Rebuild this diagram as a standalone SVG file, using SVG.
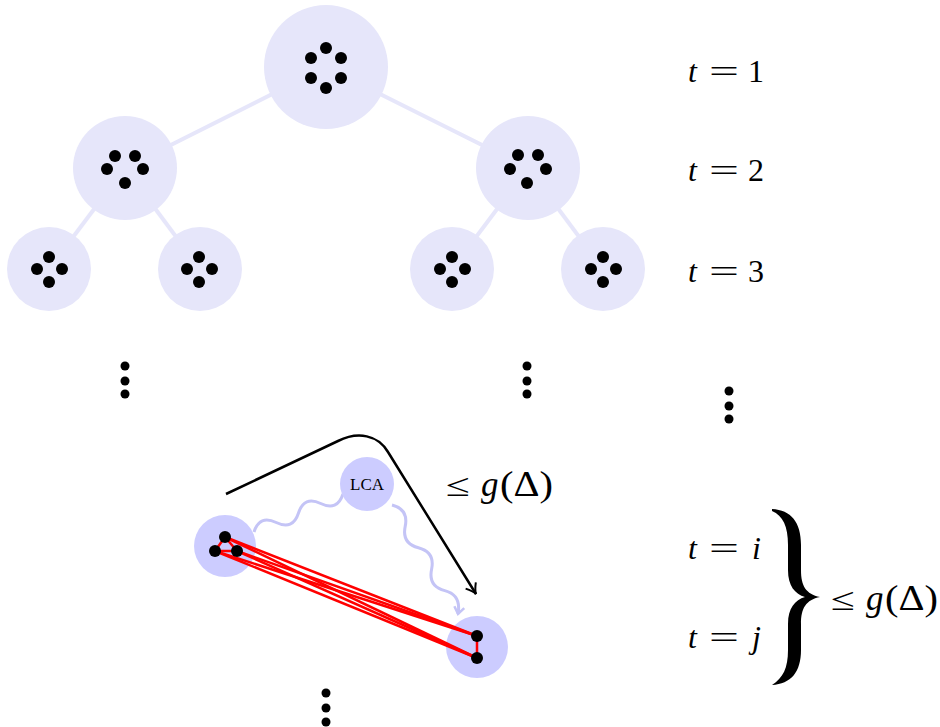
<svg xmlns="http://www.w3.org/2000/svg" width="940" height="727" viewBox="0 0 940 727">
<style>
.tn{fill:#e6e6fa}
.bn{fill:#ccccff}
.edge{stroke:#e6e6fa;stroke-width:4;fill:none}
.dot{fill:#000}
.red{stroke:#ff0000;stroke-width:2.5;fill:none}
.wave{stroke:#c4c4f6;stroke-width:3;fill:none}
.m{font-size:32px}
.i{font-style:italic}
.b{font-size:35px}
</style>
<defs>
<marker id="ah" viewBox="-12 -8 14 16" markerWidth="14" markerHeight="16" refX="0" refY="0" orient="auto" markerUnits="userSpaceOnUse">
<path d="M-10,-6 Q-4,-1 0,0 Q-4,1 -10,6" stroke="#000" stroke-width="2" fill="none"/>
</marker>
<marker id="wh" viewBox="-10 -7 12 14" markerWidth="12" markerHeight="14" refX="0" refY="0" orient="auto" markerUnits="userSpaceOnUse">
<path d="M-7,-5 L0,0 L-7,5" stroke="#c4c4f6" stroke-width="2.5" fill="none"/>
</marker>
</defs>
<g id="connectors">
<line class="edge" x1="326" y1="67" x2="125" y2="168"/>
<line class="edge" x1="326" y1="67" x2="528" y2="168"/>
<line class="edge" x1="125" y1="168" x2="49" y2="269"/>
<line class="edge" x1="125" y1="168" x2="200" y2="269"/>
<line class="edge" x1="528" y1="168" x2="452" y2="269"/>
<line class="edge" x1="528" y1="168" x2="603" y2="269"/>
<path class="wave" d="M254,532 Q259.6,514.4 276.2,522.5 T298.5,513 T320.7,503.5 T343,494"/>
<path class="wave" d="M392,505 Q408.8,509.4 405.2,526.4 T418.4,547.8 T431.6,569.2 T444.8,590.6 T458,614" marker-end="url(#wh)"/>
<path d="M226,494 L338,441 C358,431 378,435 388,452 L476,594" stroke="#000" stroke-width="2.5" fill="none" marker-end="url(#ah)"/>
</g>
<g id="n1"><circle class="tn" cx="326" cy="67" r="62"/>
<circle class="dot" cx="326" cy="48" r="6"/><circle class="dot" cx="311" cy="58" r="6"/><circle class="dot" cx="341" cy="58" r="6"/><circle class="dot" cx="311" cy="78" r="6"/><circle class="dot" cx="341" cy="78" r="6"/><circle class="dot" cx="326" cy="88" r="6"/></g>
<g id="n2"><circle class="tn" cx="125" cy="168" r="52"/>
<circle class="dot" cx="115" cy="156" r="6"/><circle class="dot" cx="135" cy="156" r="6"/><circle class="dot" cx="107" cy="169" r="6"/><circle class="dot" cx="143" cy="169" r="6"/><circle class="dot" cx="125" cy="183" r="6"/></g>
<g id="n3"><circle class="tn" cx="528" cy="168" r="52"/>
<circle class="dot" cx="518" cy="155" r="6"/><circle class="dot" cx="538" cy="155" r="6"/><circle class="dot" cx="510" cy="169" r="6"/><circle class="dot" cx="546" cy="169" r="6"/><circle class="dot" cx="527" cy="183" r="6"/></g>
<g id="n4"><circle class="tn" cx="49" cy="269" r="42"/>
<circle class="dot" cx="49" cy="257" r="6"/><circle class="dot" cx="37" cy="269" r="6"/><circle class="dot" cx="62" cy="269" r="6"/><circle class="dot" cx="49" cy="282" r="6"/></g>
<g id="n5"><circle class="tn" cx="200" cy="269" r="42"/>
<circle class="dot" cx="199" cy="257" r="6"/><circle class="dot" cx="187" cy="269" r="6"/><circle class="dot" cx="212" cy="269" r="6"/><circle class="dot" cx="199" cy="282" r="6"/></g>
<g id="n6"><circle class="tn" cx="452" cy="269" r="42"/>
<circle class="dot" cx="452" cy="257" r="6"/><circle class="dot" cx="440" cy="269" r="6"/><circle class="dot" cx="465" cy="269" r="6"/><circle class="dot" cx="452" cy="282" r="6"/></g>
<g id="n7"><circle class="tn" cx="603" cy="269" r="42"/>
<circle class="dot" cx="603" cy="257" r="6"/><circle class="dot" cx="591" cy="269" r="6"/><circle class="dot" cx="616" cy="269" r="6"/><circle class="dot" cx="603" cy="282" r="6"/></g>
<g id="vdots">
<circle class="dot" cx="125" cy="366" r="4.5"/><circle class="dot" cx="125" cy="381" r="4.5"/><circle class="dot" cx="125" cy="394" r="4.5"/>
<circle class="dot" cx="527" cy="366" r="4.5"/><circle class="dot" cx="527" cy="381" r="4.5"/><circle class="dot" cx="527" cy="394" r="4.5"/>
<circle class="dot" cx="729" cy="391" r="4.5"/><circle class="dot" cx="729" cy="406" r="4.5"/><circle class="dot" cx="729" cy="419" r="4.5"/>
<circle class="dot" cx="326" cy="693" r="4.5"/><circle class="dot" cx="326" cy="708" r="4.5"/><circle class="dot" cx="326" cy="722" r="4.5"/>
</g>
<g id="lca"><circle class="bn" cx="367" cy="484" r="27"/>
<text x="367" y="490" text-anchor="middle" font-family="Liberation Serif" font-size="17">LCA</text></g>
<g id="ni"><circle class="bn" cx="225" cy="546" r="31"/></g>
<g id="nj"><circle class="bn" cx="477" cy="647" r="31"/></g>
<g id="redges">
<line class="red" x1="225" y1="537" x2="477" y2="636"/>
<line class="red" x1="225" y1="537" x2="477" y2="658"/>
<line class="red" x1="215" y1="551" x2="477" y2="636"/>
<line class="red" x1="215" y1="551" x2="477" y2="658"/>
<line class="red" x1="237" y1="551" x2="477" y2="636"/>
<line class="red" x1="237" y1="551" x2="477" y2="658"/>
<polygon class="red" points="225,537 215,551 237,551"/>
<line class="red" x1="477" y1="636" x2="477" y2="658"/>
</g>
<g id="bdots">
<circle class="dot" cx="225" cy="537" r="6"/><circle class="dot" cx="215" cy="551" r="6"/><circle class="dot" cx="237" cy="551" r="6"/>
<circle class="dot" cx="477" cy="636" r="6"/><circle class="dot" cx="477" cy="658" r="6"/>
</g>
<g id="labels" font-family="Liberation Serif">
<text class="m" y="82"><tspan class="i" x="688">t</tspan><tspan x="709" textLength="30" lengthAdjust="spacingAndGlyphs">=</tspan><tspan x="748">1</tspan></text>
<text class="m" y="181"><tspan class="i" x="688">t</tspan><tspan x="709" textLength="30" lengthAdjust="spacingAndGlyphs">=</tspan><tspan x="748">2</tspan></text>
<text class="m" y="282"><tspan class="i" x="688">t</tspan><tspan x="709" textLength="30" lengthAdjust="spacingAndGlyphs">=</tspan><tspan x="748">3</tspan></text>
<text class="m" y="559"><tspan class="i" x="688">t</tspan><tspan x="709" textLength="30" lengthAdjust="spacingAndGlyphs">=</tspan><tspan class="i" x="752">i</tspan></text>
<text class="m" y="648"><tspan class="i" x="688">t</tspan><tspan x="709" textLength="30" lengthAdjust="spacingAndGlyphs">=</tspan><tspan class="i" x="752">j</tspan></text>
<text class="m" y="496"><tspan x="446" textLength="24" lengthAdjust="spacingAndGlyphs">≤</tspan><tspan class="i b" x="481">g</tspan><tspan class="b" x="500" textLength="53" lengthAdjust="spacingAndGlyphs">(Δ)</tspan></text>
<text class="m" y="610"><tspan x="831" textLength="24" lengthAdjust="spacingAndGlyphs">≤</tspan><tspan class="i b" x="866">g</tspan><tspan class="b" x="885" textLength="53" lengthAdjust="spacingAndGlyphs">(Δ)</tspan></text>
<path d="M772,509 C791,510 801,522 801,545 L801,570 C801,586 806,594 820,597 C806,600 801,608 801,624 L801,650 C801,672 791,684 772,685 C783,678 788,668 788,650 L788,624 C788,608 795,600 805,597 C795,594 788,586 788,570 L788,545 C788,526 783,516 772,511 Z" fill="#000"/>
</g>
</svg>
